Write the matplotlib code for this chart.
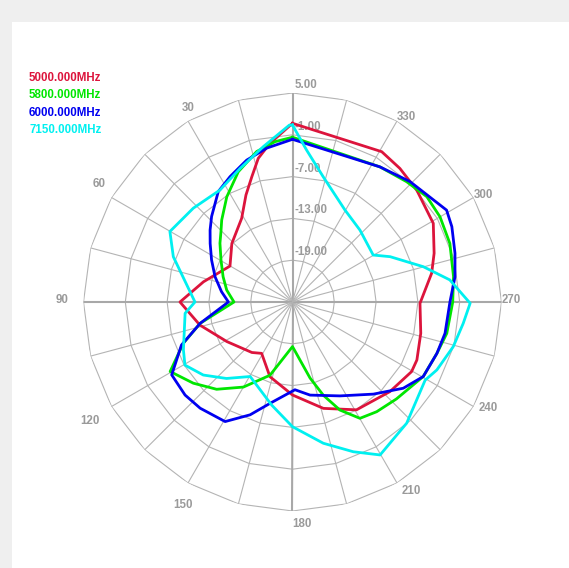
import numpy as np
import matplotlib
matplotlib.use("Agg")
import matplotlib.pyplot as plt
from matplotlib.patches import Rectangle

# radiation pattern traces, angle in degrees (CCW from top), gain in dB
red_deg = [0, 8.1, 13.4, 18, 23.5, 31.3, 46, 60.1, 77.2, 90, 104, 121.1, 141.2, 149, 163.2,
           180, 196.2, 210.7, 227.4, 239.7, 245, 256.3, 269.4, 281.7, 289, 299.2, 312,
           321.2, 329.3, 360]
red_db = [0.65, -2.0, -3.8, -6.1, -8.25, -10.95, -12.9, -14.65, -11.9, -8.85, -11.3, -14.0,
          -15.7, -16.4, -13.8, -11.65, -9.1, -7.0, -6.0, -5.2, -5.3, -6.05, -6.7, -4.6, -3.5,
          -1.85, -1.0, -0.4, 0.09, 0.65]

green_deg = [0, 6.2, 13.4, 22.6, 32, 40.8, 45.5, 51, 59.6, 70, 79.7, 90, 103, 110.7, 119.6,
             129.3, 139, 150, 162.9, 180, 193, 198.3, 203.7, 210.1, 217.5, 227, 240.3, 250.4,
             258.5, 270, 279, 290.4, 300, 308.1, 316.5, 327.1, 360]
green_db = [-1.35, -1.85, -2.8, -4.75, -7.2, -9.45, -10.6, -11.6, -13.1, -14.4, -15.4, -16.6,
            -11.4, -8.25, -4.8, -6.6, -8.4, -10.9, -14.0, -18.6, -13.8, -10.9, -8.06, -5.7,
            -5.15, -4.6, -3.4, -3.0, -2.4, -2.0, -1.6, -0.9, -0.55, -0.5, -1.2, -1.9, -1.35]

blue_deg = [0, 9.5, 17.9, 26.5, 33.9, 43.4, 48.9, 54.6, 62.5, 71.9, 81.7, 90, 103, 111.2,
            121.1, 130.9, 139, 150.6, 159.4, 167.5, 181.6, 190.7, 206.8, 221.3, 232.1, 240.3,
            250.4, 258.4, 270, 278.8, 286.7, 295.3, 300.8, 315.7, 327.1, 360]
blue_db = [-1.65, -2.6, -3.6, -4.9, -5.9, -8.1, -9.3, -10.5, -11.9, -13.3, -14.7, -15.8, -11.4,
           -7.9, -4.75, -4.6, -4.8, -5.3, -7.7, -10.1, -12.4, -11.4, -9.9, -7.4, -4.85, -3.4,
           -3.0, -2.65, -2.4, -1.4, -0.65, 0.3, 0.75, -0.85, -1.9, -1.65]

cyan_deg = [0, 1, 10.6, 21.4, 32.9, 46.6, 60.1, 69.2, 90, 96, 113.7, 120.4, 129.3, 139.2, 150.4,
            168.6, 180, 192.3, 202.1, 209.8, 223.3, 239.5, 244.8, 254.5, 262.9, 269.6, 278,
            285.1, 294.9, 300.2, 316.8, 330.3, 346.2, 354.7, 360]
cyan_db = [0.4, 0.4, -2.3, -4.4, -5.85, -5.4, -4.7, -6.7, -11.0, -9.5, -7.9, -7.1, -8.45, -10.5,
           -12.7, -9.9, -7.1, -4.25, -1.8, 0.3, -1.1, -2.9, -2.1, -1.05, -0.3, 0.5, -2.2, -5.55,
           -9.55, -11.6, -10.85, -9.8, -6.5, -3.1, 0.4]

series_names = ["5000.000MHz", "5800.000MHz", "6000.000MHz", "7150.000MHz"]
series_colors = ["#dc143c", "#00e600", "#0000f0", "#00f0f0"]

ring_levels = [-19, -13, -7, -1, 5]
ring_labels = ["-19.00", "-13.00", "-7.00", "-1.00", "5.00"]
angle_labels = [30, 60, 90, 120, 150, 180, 210, 240, 270, 300, 330]
r_min, r_max = -25, 5

# label nudges in pixels (x, y) away from the outer ring
angle_offsets = [(0, 13), (-12, 13), (-21, 2), (-22, -15), (-5, -22), (9, -13),
                 (14, -8), (15, -1), (10, 2), (10, 3), (9, 4)]

grid_color = "#b4b4b4"
label_color = "#9a9a9a"
font = "Liberation Sans"

fig = plt.figure(figsize=(5.69, 5.68), dpi=100, facecolor="#efefef")
fig.patches.append(Rectangle((12 / 569, 0), 1, (568 - 22) / 568, transform=fig.transFigure,
                             facecolor="white", edgecolor="none", zorder=-10))

ax = fig.add_axes([83.5 / 569, 57 / 568, 418 / 569, 418 / 568], projection="polar")
ax.set_zorder(5)
ax.set_theta_zero_location("N")
ax.set_theta_direction(1)
ax.set_ylim(r_min, r_max)
ax.set_facecolor("none")
ax.grid(False)
ax.set_xticks([])
ax.set_yticks([])
ax.spines["polar"].set_visible(False)

# polygon rings and spokes, every 15 degrees
spoke_deg = np.arange(0, 361, 15)
spoke_th = np.deg2rad(spoke_deg)
for lvl in ring_levels:
    ax.plot(spoke_th, [lvl] * len(spoke_th), color=grid_color, lw=0.8, zorder=1)
for a in spoke_deg[:-1]:
    main_axis = a % 90 == 0
    ax.plot([np.deg2rad(a)] * 2, [r_min, r_max],
            color="#a8a8a8" if main_axis else grid_color,
            lw=1.5 if main_axis else 0.8, zorder=1)

for lvl, txt in zip(ring_levels, ring_labels):
    ax.annotate(txt, (0, lvl), xytext=(2, 8), textcoords="offset pixels",
                ha="left", va="center", fontsize=8.3, fontweight="bold",
                color=label_color, family=font, zorder=2)

for a, off in zip(angle_labels, angle_offsets):
    ax.annotate(str(a), (np.deg2rad(a), r_max), xytext=off, textcoords="offset pixels",
                ha="center", va="center", fontsize=8.3, fontweight="bold",
                color=label_color, family=font, annotation_clip=False)

traces = [(red_deg, red_db), (green_deg, green_db), (blue_deg, blue_db), (cyan_deg, cyan_db)]
for (deg, db), col in zip(traces, series_colors):
    ax.plot(np.deg2rad(deg), db, color=col, lw=2.0, zorder=3)

# legend as coloured text, top left
for i, (name, col) in enumerate(zip(series_names, series_colors)):
    fig.text(29 / 569, (568 - 78.3 - 17.2 * i) / 568, name, color=col, fontsize=8.3,
             fontweight="bold", family=font, ha="left", va="center")

fig.savefig("out.png", dpi=100, facecolor=fig.get_facecolor())
